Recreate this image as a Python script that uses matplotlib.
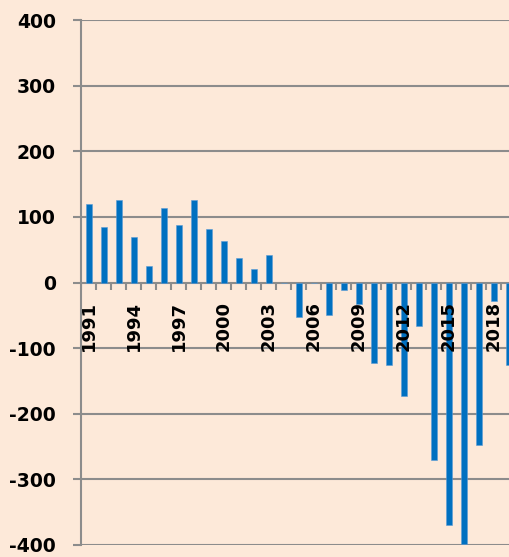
import numpy as np
import matplotlib
matplotlib.use("Agg")
import matplotlib.pyplot as plt
from matplotlib.transforms import offset_copy

# data
years = list(range(1991, 2020))
values = [120, 85, 125, 69, 25, 113, 87, 126, 82, 63, 38, 20, 42,
          0, -52, 0, -50, -12, -33, -122, -125, -173, -66,
          -271, -369, -398, -248, -28, -125]
label_years = list(range(1991, 2019, 3))
yticks = [-400, -300, -200, -100, 0, 100, 200, 300, 400]

bg = '#FDE9D9'
bar_col = '#0070C0'
grid_col = '#8C8C8C'

fig, ax = plt.subplots(figsize=(5.10, 5.57), dpi=100)
fig.subplots_adjust(left=81/510, right=1.0, top=1 - 20/557, bottom=1 - 545/557)
fig.patch.set_facecolor(bg)
ax.set_facecolor(bg)

for s in ['top', 'right', 'bottom']:
    ax.spines[s].set_visible(False)
ax.spines['left'].set_color(grid_col)
ax.spines['left'].set_linewidth(1.5)

ax.bar(years, values, width=0.4, color=bar_col, edgecolor='#5B9BD5', linewidth=0.4, zorder=3)

# horizontal gridlines (the 0 line is the category axis)
for t in yticks:
    ax.axhline(t, color=grid_col, lw=1.5, zorder=1)

# small tick marks between categories below the zero line
bounds = np.arange(1990.5, 2020, 1)
ax.vlines(bounds, 0, -12, color=grid_col, lw=1.5, zorder=1)

ax.set_yticks(yticks)
ax.set_yticklabels([str(t) for t in yticks], fontsize=13.5, fontweight='bold')
ax.tick_params(axis='y', length=6, width=1.5, color=grid_col, pad=12)
ax.set_xticks([])

ax.set_xlim(1990.5, 2019.1)
ax.set_ylim(-400, 400)

# year labels every third category, rotated, hanging from the zero line
xtr = offset_copy(ax.transData, fig=fig, x=0, y=-13.5, units='points')
for y in label_years:
    ax.text(y, 0, str(y), transform=xtr, rotation=90, ha='center', va='top',
            fontsize=13, fontweight='bold', zorder=5, clip_on=False)

fig.savefig('out.png', dpi=100, facecolor=bg)
